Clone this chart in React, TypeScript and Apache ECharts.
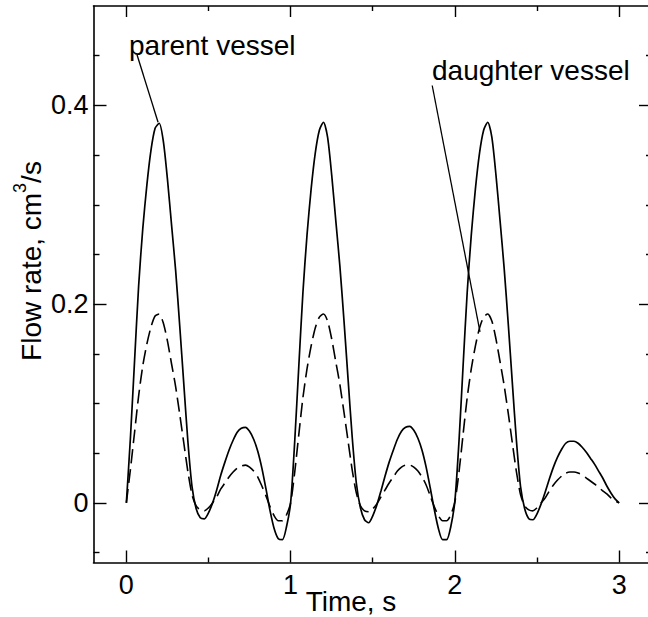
import React, { useEffect, useRef } from "react";
import * as echarts from "echarts";

// Sample times (s)
const timeS = [
  0.0, 0.025, 0.05, 0.075, 0.1, 0.125, 0.15, 0.175, 0.2, 0.225, 0.25, 0.275, 0.3, 0.325, 0.35, 0.375, 0.4, 0.425, 0.45, 0.475,
  0.5, 0.525, 0.55, 0.575, 0.6, 0.625, 0.65, 0.675, 0.7, 0.725, 0.75, 0.775, 0.8, 0.825, 0.85, 0.875, 0.9, 0.925, 0.95, 0.975,
  1.0, 1.025, 1.05, 1.075, 1.1, 1.125, 1.15, 1.175, 1.2, 1.225, 1.25, 1.275, 1.3, 1.325, 1.35, 1.375, 1.4, 1.425, 1.45, 1.475,
  1.5, 1.525, 1.55, 1.575, 1.6, 1.625, 1.65, 1.675, 1.7, 1.725, 1.75, 1.775, 1.8, 1.825, 1.85, 1.875, 1.9, 1.925, 1.95, 1.975,
  2.0, 2.025, 2.05, 2.075, 2.1, 2.125, 2.15, 2.175, 2.2, 2.225, 2.25, 2.275, 2.3, 2.325, 2.35, 2.375, 2.4, 2.425, 2.45, 2.475,
  2.5, 2.525, 2.55, 2.575, 2.6, 2.625, 2.65, 2.675, 2.7, 2.725, 2.75, 2.775, 2.8, 2.825, 2.85, 2.875, 2.9, 2.925, 2.95, 2.975,
  3.0,
];

// Flow rate in the parent vessel (cm^3/s)
const parentFlow = [
  0.0, 0.066, 0.143, 0.219, 0.276, 0.32, 0.355, 0.377, 0.382, 0.364, 0.326, 0.28, 0.234, 0.178, 0.119, 0.061, 0.016, -0.006, -0.015, -0.016,
  -0.01, 0.0, 0.013, 0.028, 0.041, 0.053, 0.063, 0.071, 0.075, 0.076, 0.072, 0.064, 0.052, 0.035, 0.014, -0.008, -0.026, -0.036, -0.037, -0.024,
  0.0, 0.062, 0.138, 0.212, 0.27, 0.316, 0.352, 0.375, 0.383, 0.368, 0.33, 0.284, 0.238, 0.183, 0.124, 0.066, 0.02, -0.005, -0.017, -0.02,
  -0.013, -0.002, 0.012, 0.027, 0.041, 0.053, 0.064, 0.072, 0.076, 0.077, 0.073, 0.065, 0.053, 0.036, 0.015, -0.007, -0.026, -0.037, -0.037, -0.024,
  0.002, 0.062, 0.138, 0.212, 0.27, 0.316, 0.352, 0.375, 0.383, 0.368, 0.33, 0.284, 0.236, 0.18, 0.12, 0.062, 0.016, -0.006, -0.016, -0.017,
  -0.011, -0.001, 0.011, 0.024, 0.036, 0.046, 0.054, 0.06, 0.062, 0.062, 0.06, 0.056, 0.051, 0.045, 0.039, 0.032, 0.025, 0.017, 0.01, 0.004,
  0.0,
];

// Flow rate in the daughter vessel (cm^3/s)
const daughterFlow = [
  0.0, 0.034, 0.071, 0.108, 0.138, 0.16, 0.177, 0.188, 0.19, 0.181, 0.163, 0.14, 0.117, 0.089, 0.06, 0.031, 0.008, -0.003, -0.007, -0.008,
  -0.005, 0.0, 0.006, 0.014, 0.02, 0.026, 0.031, 0.035, 0.037, 0.038, 0.036, 0.032, 0.026, 0.017, 0.007, -0.004, -0.013, -0.018, -0.018, -0.012,
  0.0, 0.031, 0.069, 0.106, 0.135, 0.158, 0.176, 0.187, 0.19, 0.183, 0.165, 0.142, 0.119, 0.091, 0.062, 0.033, 0.01, -0.003, -0.008, -0.009,
  -0.006, -0.001, 0.006, 0.013, 0.02, 0.026, 0.032, 0.036, 0.038, 0.038, 0.036, 0.032, 0.026, 0.018, 0.007, -0.004, -0.013, -0.018, -0.018, -0.012,
  0.001, 0.031, 0.069, 0.106, 0.135, 0.158, 0.176, 0.187, 0.19, 0.183, 0.165, 0.142, 0.118, 0.09, 0.06, 0.031, 0.008, -0.003, -0.007, -0.008,
  -0.005, 0.0, 0.005, 0.012, 0.018, 0.023, 0.027, 0.03, 0.031, 0.031, 0.03, 0.028, 0.025, 0.022, 0.019, 0.016, 0.012, 0.009, 0.005, 0.002,
  0.0,
];

const seriesNames = ["parent vessel", "daughter vessel"];

// Tick positions
const xMajorTicks = [0, 1, 2, 3];
const xMinorTicks = [0.5, 1.5, 2.5];
const yMajorTicks = [0, 0.2, 0.4];
const yMinorTicks = [-0.05, 0.05, 0.1, 0.15, 0.25, 0.3, 0.35, 0.45];

const xTitle = "Time, s";

const FONT = "'Liberation Sans', Arial, Helvetica, sans-serif";
const INK = "#000";

const X_MIN = -0.2;
const X_MAX = 3.2;
const Y_MIN = -0.06;
const Y_MAX = 0.5;

function makeAxis(
  position: string,
  min: number,
  max: number,
  ticks: number[],
  tickLen: number,
  showLine: boolean,
  showLabels: boolean,
  labelMargin: number,
) {
  return {
    type: "value",
    position,
    min,
    max,
    scale: true,
    axisLine: { show: showLine, onZero: false, lineStyle: { color: INK, width: 1.6 } },
    axisTick: {
      show: true,
      inside: true,
      length: tickLen,
      customValues: ticks,
      lineStyle: { color: INK, width: 1.4 },
    },
    axisLabel: {
      show: showLabels,
      customValues: ticks,
      color: INK,
      fontSize: 27,
      fontFamily: FONT,
      margin: labelMargin,
    },
    splitLine: { show: false },
  };
}

export default function App() {
  const ref = useRef<HTMLDivElement>(null);

  useEffect(() => {
    if (!ref.current) return;
    const chart = echarts.init(ref.current, null, { renderer: "svg" });

    const parentData = timeS.map((t, i) => [t, parentFlow[i]]);
    const daughterData = timeS.map((t, i) => [t, daughterFlow[i]]);

    chart.setOption({
      animation: false,
      backgroundColor: "#fff",
      grid: { left: 93.5, right: 8, top: 6, bottom: 54.5, containLabel: false },
      xAxis: [
        makeAxis("bottom", X_MIN, X_MAX, xMajorTicks, 12, true, true, 9),
        makeAxis("bottom", X_MIN, X_MAX, xMinorTicks, 5, false, false, 8),
        makeAxis("top", X_MIN, X_MAX, xMajorTicks, 11, true, false, 8),
        makeAxis("top", X_MIN, X_MAX, xMinorTicks, 5, false, false, 8),
      ],
      yAxis: [
        makeAxis("left", Y_MIN, Y_MAX, yMajorTicks, 13, true, true, 5),
        makeAxis("left", Y_MIN, Y_MAX, yMinorTicks, 6, false, false, 8),
        makeAxis("right", Y_MIN, Y_MAX, yMajorTicks, 13, true, false, 8),
        makeAxis("right", Y_MIN, Y_MAX, yMinorTicks, 6, false, false, 8),
      ],
      series: [
        {
          name: seriesNames[0],
          type: "line",
          xAxisIndex: 0,
          yAxisIndex: 0,
          data: parentData,
          showSymbol: false,
          smooth: 0.25,
          lineStyle: { color: INK, width: 1.7, type: "solid" },
          markLine: {
            silent: true,
            symbol: "none",
            label: { show: false },
            lineStyle: { color: INK, width: 1.3, type: "solid" },
            data: [[{ coord: [0.065, 0.451] }, { coord: [0.193, 0.383] }]],
          },
        },
        {
          name: seriesNames[1],
          type: "line",
          xAxisIndex: 0,
          yAxisIndex: 0,
          data: daughterData,
          showSymbol: false,
          smooth: 0.25,
          lineStyle: { color: INK, width: 1.6, type: [14, 6] },
          markLine: {
            silent: true,
            symbol: "none",
            label: { show: false },
            lineStyle: { color: INK, width: 1.3, type: "solid" },
            data: [[{ coord: [1.862, 0.42] }, { coord: [2.153, 0.172] }]],
          },
        },
      ],
      graphic: [
        {
          type: "text",
          x: 129,
          y: 45,
          style: {
            text: seriesNames[0],
            font: `28px ${FONT}`,
            fill: INK,
            textAlign: "left",
            textVerticalAlign: "middle",
          },
        },
        {
          type: "text",
          x: 432,
          y: 70,
          style: {
            text: seriesNames[1],
            font: `28px ${FONT}`,
            fill: INK,
            textAlign: "left",
            textVerticalAlign: "middle",
          },
        },
        {
          type: "text",
          x: 351,
          y: 601,
          style: {
            text: xTitle,
            font: `28px ${FONT}`,
            fill: INK,
            textAlign: "center",
            textVerticalAlign: "middle",
          },
        },
        {
          type: "text",
          x: 31,
          y: 261,
          rotation: Math.PI / 2,
          style: {
            text: "{a|Flow rate, cm}{b|3}{a|/s}",
            fill: INK,
            textAlign: "center",
            textVerticalAlign: "middle",
            rich: {
              a: { fontSize: 28, fontFamily: FONT, lineHeight: 41, verticalAlign: "middle", fill: INK },
              b: { fontSize: 18, fontFamily: FONT, lineHeight: 18, verticalAlign: "top", fill: INK },
            },
          },
        },
      ],
    });

    return () => chart.dispose();
  }, []);

  return (
    <div style={{ position: "absolute", left: 0, top: 0, width: 648, height: 617, overflow: "hidden", background: "#fff" }}>
      <div ref={ref} style={{ width: 660, height: 617 }} />
    </div>
  );
}
